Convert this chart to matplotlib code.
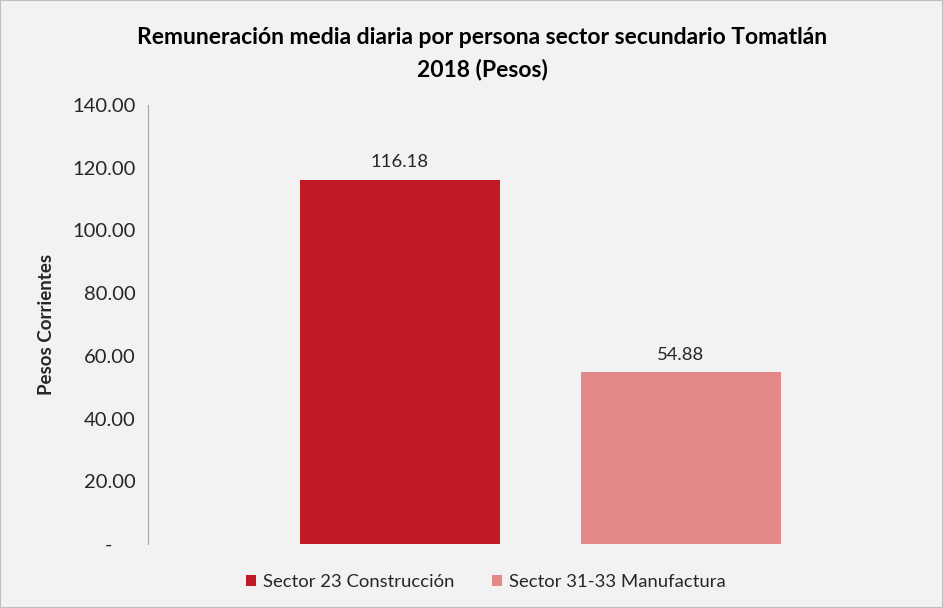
import matplotlib.pyplot as plt
from matplotlib.patches import Rectangle
import numpy as np

# data
series = ['Sector 23 Construcción', 'Sector 31-33 Manufactura']
values = [116.18, 54.88]
colors = ['#c01b24', '#e4888a']
yticks = [0, 20, 40, 60, 80, 100, 120, 140]

plt.rcParams['font.family'] = ['Lato', 'DejaVu Sans']

fig = plt.figure(figsize=(9.43, 6.08), dpi=100, facecolor='#f2f2f2')
ax = fig.add_axes([148/943, 1 - 544/608, 785/943, 439/608])
ax.set_facecolor('#f2f2f2')

# bar layout inside the single category
xpos = np.array([0.321, 0.679])
width = 0.256
bars = ax.bar(xpos, values, width=width, color=colors, label=series)
for x, v in zip(xpos, values):
    ax.text(x, v + 3, f'{v:.2f}', ha='center', va='bottom', fontsize=13.3, color='#262626')

ax.set_xlim(0, 1)
ax.set_ylim(0, 140)
ax.set_yticks(yticks)
# accounting style: zero shown as a dash, padded with figure spaces
ax.set_yticklabels(['-\u2007\u2007' if t == 0 else f'{t:.2f}' for t in yticks],
                   fontsize=14.5, color='#262626')
ax.tick_params(axis='y', length=0, pad=9)
ax.set_xticks([])
for s in ['top', 'right', 'bottom']:
    ax.spines[s].set_visible(False)
ax.spines['left'].set_color('#a6a6a6')
ax.set_ylabel('Pesos Corrientes', fontsize=13.5, fontweight='bold', color='#262626', labelpad=12)

fig.text(482/943, 1 - 38/608, 'Remuneración media diaria por persona sector secundario Tomatlán',
         ha='center', va='center', fontsize=16.5, fontweight='bold', color='black')
fig.text(482/943, 1 - 69/608, '2018 (Pesos)', ha='center', va='center',
         fontsize=16.5, fontweight='bold', color='black')

leg = fig.legend(handles=bars, labels=series, loc='center', bbox_to_anchor=(486/943, 1 - 582/608),
                 ncol=2, frameon=False, fontsize=13.3, handlelength=0.55, handleheight=0.55,
                 handletextpad=0.4, columnspacing=2.0)
for t in leg.get_texts():
    t.set_color('#262626')

fig.patches.append(Rectangle((0, 0), 1, 1, transform=fig.transFigure, fill=False,
                             edgecolor='#bfbfbf', linewidth=1.5))

fig.savefig('out.png', dpi=100, facecolor=fig.get_facecolor())
